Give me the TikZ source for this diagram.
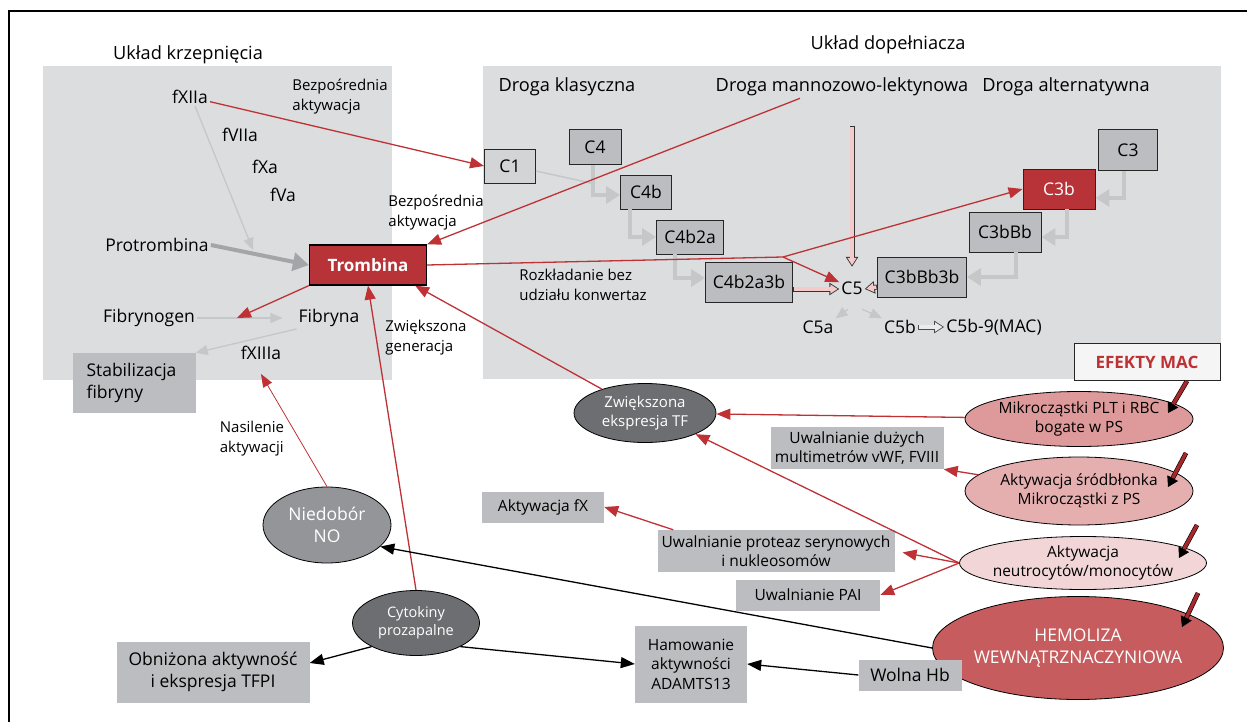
\documentclass[tikz,border=0pt]{standalone}
\usepackage{fontspec}
\setmainfont{Open Sans}
\usetikzlibrary{arrows.meta,shapes.geometric}

\definecolor{panel}{HTML}{DCDDDE}
\definecolor{boxgray}{HTML}{BCBDC0}
\definecolor{cigray}{HTML}{D3D4D6}
\definecolor{lightarr}{HTML}{C6C7C9}
\definecolor{midarr}{HTML}{A4A5A8}
\definecolor{myred}{HTML}{BE3236}
\definecolor{trombred}{HTML}{B73338}
\definecolor{darkell}{HTML}{6D6E71}
\definecolor{noell}{HTML}{939598}
\definecolor{mikrofill}{HTML}{DE999B}
\definecolor{srodfill}{HTML}{E5AFB0}
\definecolor{neutrofill}{HTML}{F2D6D7}
\definecolor{hemfill}{HTML}{C65C5D}
\definecolor{hollowfill}{HTML}{F4CACA}
\definecolor{macred}{HTML}{A4282C}

\newcommand{\fsz}[2]{\fontsize{#1}{#2}\selectfont}

\begin{document}
\begin{tikzpicture}[x=1pt,y=-1pt,
	txt/.style={inner sep=2pt,font=\fsz{17.5}{21}},
	head/.style={inner sep=2pt,font=\fsz{18.2}{22}},
	note/.style={inner sep=0pt,align=left,font=\fsz{15}{20}},
	cbox/.style={draw=black!85,line width=0.9pt,fill=boxgray,inner sep=0pt,font=\fsz{17.5}{21}},
	gbox/.style={fill=boxgray,inner sep=0pt,align=center,font=\fsz{15.5}{19.5}},
	ell/.style={ellipse,draw=black,line width=0.8pt,inner sep=-6pt,align=center},
	redarr/.style={draw=myred,line width=1.3pt,-{Triangle[length=14pt,width=11pt]}},
	redthin/.style={draw=myred,line width=0.8pt,-{Triangle[length=13pt,width=10pt]}},
	redln/.style={draw=myred,line width=1.3pt},
	blkarr/.style={draw=black,line width=1.3pt,-{Triangle[length=14pt,width=11pt]}},
	faint/.style={draw=lightarr,line width=1.3pt,-{Triangle[length=12pt,width=10pt]}},
	faintln/.style={draw=lightarr,line width=1.5pt},
	thickarr/.style={draw=midarr,line width=4pt,-{Triangle[length=16pt,width=18pt]}},
	casc/.style={draw=lightarr,line width=4.5pt,-{Triangle[length=14pt,width=17pt]}},
	hollowarr/.style={preaction={draw=black!80,line width=5pt,shorten >=0pt,shorten <=0pt,-{Triangle[length=10pt,width=12pt]}},
		draw=hollowfill,line width=3.4pt,shorten >=1.6pt,shorten <=0.8pt,-{Triangle[length=7.4pt,width=8.8pt]}},
	hollowgray/.style={preaction={draw=black!70,line width=5pt,shorten >=0pt,shorten <=0pt,-{Triangle[length=10pt,width=12pt]}},
		draw=black!8,line width=3.4pt,shorten >=1.6pt,shorten <=0.8pt,-{Triangle[length=7.4pt,width=8.8pt]}},
	macarr/.style={draw=black,line width=0.6pt,double=macred,double distance=3.5pt,-{Triangle[length=10pt,width=12pt]}}]
	\useasboundingbox (0,0) rectangle (1247,722);
	\draw[line width=1.5pt] (9,722) -- (9,11) -- (1247,11);
	\fill[panel] (43,66) rectangle (392,380);
	\fill[panel] (483,66) rectangle (1221,379);

	\node[head] (ukk) at (188,55) {Układ krzepnięcia};
	\node[head] (ukd) at (888,45) {Układ dopełniacza};
	\node[head] (dkl) at (567,87) {Droga klasyczna};
	\node[head] (dml) at (842,87) {Droga mannozowo-lektynowa};
	\node[head] (dalt) at (1066,87) {Droga alternatywna};

	% uklad krzepniecia
	\node[txt] (fxiia) at (190,97) {fXIIa};
	\node[txt] (fviia) at (240,135) {fVIIa};
	\node[txt] (fxa) at (265,167) {fXa};
	\node[txt] (fva) at (283,195) {fVa};
	\node[txt] (protr) at (157,245) {Protrombina};
	\node[draw=black,line width=1.2pt,fill=trombred,text=white,font=\bfseries\fsz{17}{21},minimum width=117pt,minimum height=40pt] (tromb) at (368,265) {Trombina};
	\node[txt] (fibrg) at (149,318) {Fibrynogen};
	\node[txt] (fibr) at (329,318) {Fibryna};
	\node[txt] (fxiiia) at (261,353) {fXIIIa};
	\node[fill=boxgray,align=left,font=\fsz{17.5}{22},inner xsep=14pt,text width=95pt,minimum height=60pt] (stab) at (134,383) {Stabilizacja\\fibryny};

	\node[note] (bezp1) at (340,97) {Bezpośrednia\\aktywacja};
	\node[note] (bezp2) at (436,213) {Bezpośrednia\\aktywacja};
	\node[note] (zwgen) at (426,338) {Zwiększona\\generacja};
	\node[note] (nasil) at (252,439) {Nasilenie\\aktywacji};
	\node[note] (rozkl) at (583,285) {Rozkładanie bez\\udziału konwertaz};

	% uklad dopelniacza
	\node[cbox,fill=cigray,minimum width=51pt,minimum height=34pt] (c1) at (510,166) {C1};
	\node[cbox,minimum width=52pt,minimum height=35pt] (c4) at (595,147) {C4};
	\node[cbox,minimum width=51pt,minimum height=34pt] (c4b) at (646,192) {C4b};
	\node[cbox,minimum width=67pt,minimum height=34pt] (c4b2a) at (690,237) {C4b2a};
	\node[cbox,minimum width=87pt,minimum height=40pt] (c4b2a3b) at (749,282) {C4b2a3b};
	\node[txt,minimum height=42pt] (c5) at (852,288) {C5};
	\node[txt] (c5a) at (818,327) {C5a};
	\node[txt] (c5b) at (900,327) {C5b};
	\node[txt] (mac) at (994,327) {C5b-9(MAC)};
	\node[cbox,minimum width=59pt,minimum height=41pt] (c3) at (1128,150) {C3};
	\node[cbox,fill=trombred,text=white,minimum width=72pt,minimum height=40pt] (c3b) at (1059,189) {C3b};
	\node[cbox,minimum width=72pt,minimum height=40pt] (c3bbb) at (1005,232) {C3bBb};
	\node[cbox,minimum width=89pt,minimum height=40pt] (c3bbb3b) at (922,277) {C3bBb3b};
	\node[draw=black!85,line width=0.9pt,fill=black!4,text=myred,font=\bfseries\fsz{17}{21},minimum width=146pt,minimum height=37pt] (efekty) at (1147,362) {EFEKTY MAC};

	\node[ell,fill=mikrofill,font=\fsz{15.5}{19},minimum width=228pt,minimum height=55pt] (mikro) at (1079,419) {Mikrocząstki PLT i RBC\\bogate w PS};
	\node[ell,fill=srodfill,font=\fsz{15.5}{19},minimum width=228pt,minimum height=68pt] (srod) at (1079,491) {Aktywacja śródbłonka\\Mikrocząstki z PS};
	\node[ell,fill=neutrofill,font=\fsz{15.5}{19},minimum width=247pt,minimum height=53pt] (neutro) at (1083,563) {Aktywacja\\neutrocytów/monocytów};
	\node[ell,fill=hemfill,text=white,font=\fsz{17.5}{22},minimum width=291pt,minimum height=103pt] (hemol) at (1078,648) {HEMOLIZA\\WEWNĄTRZNACZYNIOWA};
	\node[ell,fill=darkell,text=white,font=\fsz{15}{19},minimum width=142pt,minimum height=59pt] (tf) at (645,413) {Zwiększona\\ekspresja TF};
	\node[ell,fill=noell,text=white,font=\fsz{17.5}{22},minimum width=128pt,minimum height=76pt] (no) at (327,525) {Niedobór\\NO};
	\node[ell,fill=darkell,text=white,font=\fsz{14.5}{18},minimum width=127pt,minimum height=65pt] (cyt) at (416,623) {Cytokiny\\prozapalne};

	\node[gbox,minimum width=173pt,minimum height=42pt] (vwf) at (857,448) {Uwalnianie dużych\\multimetrów vWF, FVIII};
	\node[gbox,minimum width=122pt,minimum height=31pt] (akfx) at (543,507) {Aktywacja fX};
	\node[gbox,minimum width=237pt,minimum height=42pt] (prot) at (776,551) {Uwalnianie proteaz serynowych\\i nukleosomów};
	\node[gbox,minimum width=144pt,minimum height=31pt] (pai) at (808,595) {Uwalnianie PAI};
	\node[gbox,minimum width=112pt,minimum height=77pt] (hamow) at (691,664) {Hamowanie\\aktywności\\ADAMTS13};
	\node[gbox,font=\fsz{17.5}{21},minimum width=103pt,minimum height=31pt] (wolna) at (910,675) {Wolna Hb};
	\node[gbox,font=\fsz{17.5}{22},minimum width=193pt,minimum height=61pt] (tfpi) at (213,672) {Obniżona aktywność\\i ekspresja TFPI};

	\coordinate (fxend) at (253,250);
	\coordinate (fibmid) at (237,318);
	\coordinate (split) at (783,257);
	\coordinate (mlstart) at (852,126);
	\coordinate (m1e) at (1168,413);
	\coordinate (m2s) at (1186,453);
	\coordinate (m2e) at (1168,487);
	\coordinate (m3s) at (1197,525);
	\coordinate (m3e) at (1179,558);
	\coordinate (m4s) at (1198,593);
	\coordinate (m4e) at (1182,627);

	% krzepniecie
	\draw ([xshift=5pt]fxiia.south) edge[faint] (fxend);
	\draw (protr.east) edge[thickarr] (tromb.west);
	\draw (fibrg.east) edge[faint,shorten >=14pt] (fibr.west);
	\draw (fibr.south west) edge[faint] (stab.north east);
	\draw (tromb.south west) edge[redarr] (fibmid);
	\draw (fxiia) edge[redarr] (c1.west);

	% kaskada
	\draw[faintln] ([yshift=-5pt]c1.east) -- ([yshift=-19pt]c4.south);
	\draw[casc] ([xshift=-2pt]c4.south) |- ([yshift=-3pt]c4b.west);
	\draw[casc] ([xshift=-16pt]c4b.south) |- (c4b2a.west);
	\draw[casc] ([xshift=-15pt]c4b2a.south) |- ([yshift=4pt]c4b2a3b.west);
	\draw[casc] ([xshift=-4pt]c3.south) |- ([yshift=-9pt]c3b.east);
	\draw[casc] ([xshift=8pt]c3b.south) |- ([yshift=-5pt]c3bbb.east);
	\draw[casc] ([xshift=11pt]c3bbb.south) |- (c3bbb3b.east);
	\draw[hollowarr] (mlstart) -- (c5.north);
	\draw[hollowarr] ([yshift=-7pt]c4b2a3b.east) -- ([yshift=-1pt]c5.west);
	\draw[hollowarr] ([yshift=-10pt]c3bbb3b.west) -- ([yshift=-1pt]c5.east);
	\draw ([xshift=-4pt]c5.south) edge[faint] (c5a.north east);
	\draw ([xshift=10pt]c5.south) edge[faint] (c5b.north west);
	\draw[hollowgray] (c5b) -- (mac);

	\draw[redln] (tromb.east) -- (split);
	\draw (split) edge[redarr] (c3b.west);
	\draw (split) edge[redarr] (c5);
	\draw ([xshift=-42pt]dml.south) edge[redarr] (tromb.north east);
	\draw (tf) edge[redarr] ([xshift=-12pt]tromb.south east);
	\draw (cyt.north) edge[redarr] (tromb.south);
	\draw (no.north) edge[redthin] ([yshift=-12pt]fxiiia.south);

	% efekty MAC
	\draw ([xshift=40pt]efekty.south) edge[macarr] (m1e);
	\draw (m2s) edge[macarr] (m2e);
	\draw (m3s) edge[macarr] (m3e);
	\draw (m4s) edge[macarr] (m4e);
	\draw (mikro) edge[redarr] (tf);
	\draw (srod) edge[redarr] (vwf.south east);
	\draw (neutro.west) edge[redarr] (tf.south east);
	\draw (neutro.west) edge[redarr,shorten >=8pt] (prot.east);
	\draw (neutro.west) edge[redarr] (pai.east);
	\draw ([xshift=16pt]prot.north west) edge[redarr] (akfx.east);
	\draw (hemol.west) edge[blkarr] (no.-22);
	\draw (wolna.west) edge[blkarr] (hamow.east);
	\draw (cyt.-28) edge[blkarr] (hamow.west);
	\draw (cyt.208) edge[blkarr] ([yshift=9pt]tfpi.east);
\end{tikzpicture}
\end{document}
